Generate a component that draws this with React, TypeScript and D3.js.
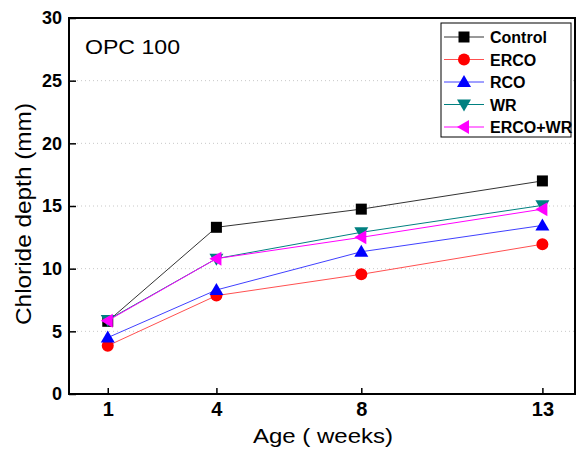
import React, { useRef, useEffect } from 'react';
import * as d3 from 'd3';

const weeks = [1, 4, 8, 13];
const control = [5.8, 13.3, 14.75, 17.0];
const erco = [3.85, 7.85, 9.55, 11.95];
const rco = [4.5, 8.3, 11.35, 13.45];
const wr = [5.9, 10.8, 12.9, 15.05];
const ercoWr = [5.85, 10.8, 12.5, 14.75];
const yTicks = [0, 5, 10, 15, 20, 25, 30];

const seriesList = [
  { name: 'Control', values: control, line: '#333333', fill: '#000000', symbol: 'square' },
  { name: 'ERCO', values: erco, line: '#ff5050', fill: '#ff0000', symbol: 'circle' },
  { name: 'RCO', values: rco, line: '#4040ff', fill: '#0000ff', symbol: 'up' },
  { name: 'WR', values: wr, line: '#008080', fill: '#008080', symbol: 'down' },
  { name: 'ERCO+WR', values: ercoWr, line: '#ff00ff', fill: '#ff00ff', symbol: 'left' },
];

const W = 578;
const H = 452;
const margin = { top: 18, right: 3, bottom: 58, left: 69 };
const FONT = 'Liberation Sans, Arial, sans-serif';

function markerPath(symbol: string, cx: number, cy: number) {
  const s = 6;
  if (symbol === 'square') return `M${cx - 5.5},${cy - 5.5}h11v11h-11z`;
  if (symbol === 'circle') return `M${cx - s},${cy}a${s},${s} 0 1,0 ${2 * s},0a${s},${s} 0 1,0 ${-2 * s},0z`;
  if (symbol === 'up') return `M${cx},${cy - 7}L${cx + 7},${cy + 5}L${cx - 7},${cy + 5}z`;
  if (symbol === 'down') return `M${cx},${cy + 7}L${cx + 7},${cy - 5}L${cx - 7},${cy - 5}z`;
  return `M${cx - 7},${cy}L${cx + 5},${cy - 7}L${cx + 5},${cy + 7}z`;
}

export default function App() {
  const svgRef = useRef<SVGSVGElement>(null);

  useEffect(() => {
    const svgEl = d3.select(svgRef.current);
    svgEl.selectAll('*').remove();

    const width = W - margin.left - margin.right;
    const height = H - margin.top - margin.bottom;

    const x = d3.scaleLinear().domain([-0.07, 13.9]).range([0, width]);
    const y = d3.scaleLinear().domain([0, 30]).range([height, 0]);

    const svg = svgEl.append('g').attr('transform', `translate(${margin.left},${margin.top})`);

    // dotted grid
    svg.selectAll('.grid')
      .data(yTicks.filter((t) => t > 0 && t < 30))
      .enter()
      .append('line')
      .attr('x1', 0)
      .attr('x2', width)
      .attr('y1', (d) => y(d))
      .attr('y2', (d) => y(d))
      .attr('stroke', '#c8c8c8')
      .attr('stroke-width', 1)
      .attr('stroke-dasharray', '1,3');

    // frame
    svg.append('rect')
      .attr('x', 0)
      .attr('y', 0)
      .attr('width', width)
      .attr('height', height)
      .attr('fill', 'none')
      .attr('stroke', '#000')
      .attr('stroke-width', 2);

    const yAxis = d3.axisLeft(y).tickValues(yTicks).tickSize(-7).tickPadding(7);
    const yG = svg.append('g').call(yAxis);
    yG.select('.domain').remove();
    yG.selectAll('line').attr('stroke-width', 1.5);
    yG.selectAll('text')
      .attr('font-family', FONT)
      .attr('font-weight', 'bold')
      .attr('font-size', 18)
      .attr('fill', '#000');

    const xAxis = d3.axisBottom(x).tickValues(weeks).tickSize(-6).tickPadding(8).tickFormat(d3.format('d'));
    const xG = svg.append('g').attr('transform', `translate(0,${height})`).call(xAxis);
    xG.select('.domain').remove();
    xG.selectAll('line').attr('stroke-width', 1.5);
    xG.selectAll('text')
      .attr('font-family', FONT)
      .attr('font-weight', 'bold')
      .attr('font-size', 20)
      .attr('fill', '#000');

    // axis titles
    svgEl.append('text')
      .attr('x', 253)
      .attr('y', 443)
      .attr('font-family', FONT)
      .attr('font-size', 21)
      .attr('textLength', 140)
      .attr('lengthAdjust', 'spacingAndGlyphs')
      .text('Age ( weeks)');

    svgEl.append('text')
      .attr('transform', 'translate(31,325) rotate(-90)')
      .attr('font-family', FONT)
      .attr('font-size', 22)
      .attr('textLength', 222)
      .attr('lengthAdjust', 'spacingAndGlyphs')
      .text('Chloride depth (mm)');

    svgEl.append('text')
      .attr('x', 85)
      .attr('y', 54)
      .attr('font-family', FONT)
      .attr('font-size', 21)
      .attr('textLength', 95)
      .attr('lengthAdjust', 'spacingAndGlyphs')
      .text('OPC 100');

    const line = d3.line<number>().x((d, i) => x(weeks[i])).y((d) => y(d));

    seriesList.forEach((s) => {
      svg.append('path')
        .attr('d', line(s.values))
        .attr('fill', 'none')
        .attr('stroke', s.line)
        .attr('stroke-width', 1);
      svg.selectAll(null)
        .data(s.values)
        .enter()
        .append('path')
        .attr('d', (d, i) => markerPath(s.symbol, x(weeks[i]), y(d)))
        .attr('fill', s.fill);
    });

    // legend
    const lg = svgEl.append('g').attr('transform', 'translate(441,23)');
    lg.append('rect')
      .attr('width', 130)
      .attr('height', 114)
      .attr('fill', '#fff')
      .attr('stroke', '#000')
      .attr('stroke-width', 1);
    seriesList.forEach((s, i) => {
      const ry = 14 + i * 22.5;
      lg.append('line')
        .attr('x1', 3)
        .attr('x2', 43)
        .attr('y1', ry)
        .attr('y2', ry)
        .attr('stroke', s.line)
        .attr('stroke-width', 1);
      lg.append('path').attr('d', markerPath(s.symbol, 23, ry)).attr('fill', s.fill);
      lg.append('text')
        .attr('x', 49)
        .attr('y', ry + 6)
        .attr('font-family', FONT)
        .attr('font-weight', 'bold')
        .attr('font-size', 16)
        .text(s.name);
    });
  }, []);

  return <svg ref={svgRef} width={W} height={H} style={{ position: 'absolute', left: 0, top: 0, background: '#fff' }} />;
}
